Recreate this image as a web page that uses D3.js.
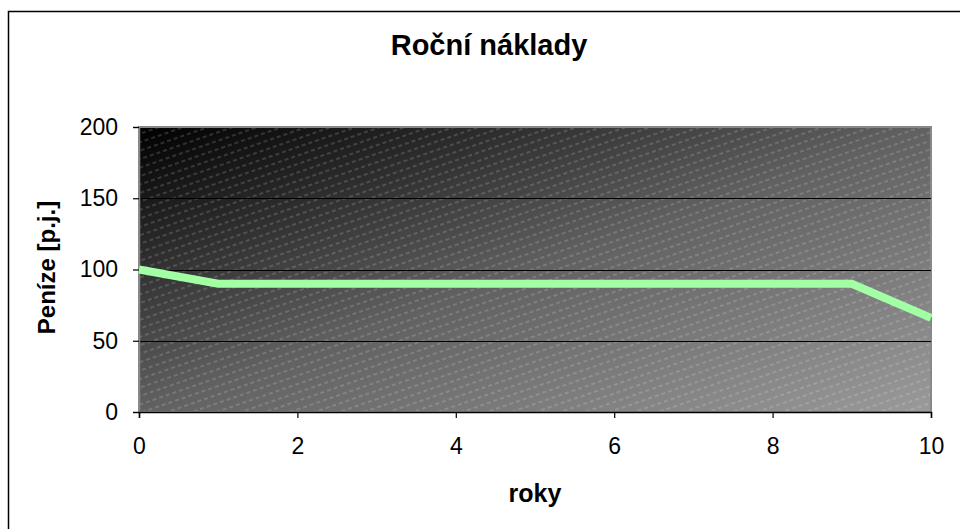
<!DOCTYPE html>
<html>
<head>
<meta charset="utf-8">
<script src="https://cdn.jsdelivr.net/npm/d3@7"></script>
<style>
  html, body { margin: 0; padding: 0; background: #fff; }
  svg { display: block; font-family: "Liberation Sans", Arial, sans-serif; }
</style>
</head>
<body>
<svg id="chart" width="960" height="529"></svg>
<script>
// Annual costs over the years
const years = [0, 1, 2, 3, 4, 5, 6, 7, 8, 9, 10];
const costs = [100, 90, 90, 90, 90, 90, 90, 90, 90, 90, 66];
const xTicks = [0, 2, 4, 6, 8, 10];
const yTicks = [0, 50, 100, 150, 200];

const title = "Roční náklady";
const xTitle = "roky";
const yTitle = "Peníze [p.j.]";

const svg = d3.select("#chart");
const plot = { left: 139, top: 127, right: 931, bottom: 412 };

const x = d3.scaleLinear().domain([0, 10]).range([plot.left, plot.right]);
const y = d3.scaleLinear().domain([0, 200]).range([plot.bottom, plot.top]);

const defs = svg.append("defs");

// plot area fill: diagonal grey gradient with a light hatch on top
const grad = defs.append("linearGradient")
  .attr("id", "bg").attr("x1", 0).attr("y1", 0).attr("x2", 1).attr("y2", 1);
grad.append("stop").attr("offset", 0).attr("stop-color", "#000");
grad.append("stop").attr("offset", 0.5).attr("stop-color", "#616161");
grad.append("stop").attr("offset", 1).attr("stop-color", "#9a9a9a");

const hatch = defs.append("pattern")
  .attr("id", "hatch").attr("patternUnits", "userSpaceOnUse")
  .attr("width", 7).attr("height", 8)
  .attr("patternTransform", "rotate(-19)");
hatch.append("line")
  .attr("x1", 0).attr("y1", 4).attr("x2", 7).attr("y2", 4)
  .attr("stroke", "#fff").attr("stroke-opacity", 0.3)
  .attr("stroke-width", 1).attr("stroke-dasharray", "4 3");

// outer chart border
svg.append("rect")
  .attr("x", 8.5).attr("y", 11.5).attr("width", 1000).attr("height", 1000)
  .attr("fill", "none").attr("stroke", "#000").attr("stroke-width", 1.5);

const pw = plot.right - plot.left, ph = plot.bottom - plot.top;
svg.append("rect")
  .attr("x", plot.left).attr("y", plot.top).attr("width", pw).attr("height", ph)
  .attr("fill", "url(#bg)");
svg.append("rect")
  .attr("x", plot.left).attr("y", plot.top).attr("width", pw).attr("height", ph)
  .attr("fill", "url(#hatch)");
svg.append("rect")
  .attr("x", plot.left).attr("y", plot.top).attr("width", pw).attr("height", ph)
  .attr("fill", "none").attr("stroke", "#888").attr("stroke-width", 2);

// horizontal gridlines
svg.append("g")
  .selectAll("line")
  .data(yTicks.filter(d => d > 0 && d < 200))
  .join("line")
  .attr("x1", plot.left).attr("x2", plot.right)
  .attr("y1", d => Math.round(y(d)) + 0.5).attr("y2", d => Math.round(y(d)) + 0.5)
  .attr("stroke", "#000").attr("stroke-width", 1);

// axes
const yAxis = svg.append("g")
  .attr("transform", `translate(${plot.left},0)`)
  .call(d3.axisLeft(y).tickValues(yTicks).tickSize(6).tickPadding(15));
const xAxis = svg.append("g")
  .attr("transform", `translate(0,${plot.bottom})`)
  .call(d3.axisBottom(x).tickValues(xTicks).tickSize(6).tickPadding(20));

[yAxis, xAxis].forEach(g => {
  g.select(".domain").attr("stroke", "#000").attr("stroke-width", 1.5);
  g.selectAll(".tick line").attr("stroke", "#000").attr("stroke-width", 1.2);
  g.selectAll(".tick text")
    .attr("fill", "#000")
    .style("font-family", "'Liberation Sans', Arial, sans-serif")
    .style("font-size", "23px");
});
yAxis.select(".domain").attr("stroke", "#888");

// cost line
const line = d3.line().x((d, i) => x(years[i])).y(d => y(d));
svg.append("path")
  .datum(costs)
  .attr("d", line)
  .attr("fill", "none")
  .attr("stroke", "#a3ffa3")
  .attr("stroke-width", 8)
  .attr("stroke-linejoin", "miter");

// titles
svg.append("text")
  .attr("x", 489).attr("y", 55)
  .attr("text-anchor", "middle")
  .style("font-weight", "bold").style("font-size", "29px")
  .text(title);

svg.append("text")
  .attr("x", (plot.left + plot.right) / 2).attr("y", 502)
  .attr("text-anchor", "middle")
  .style("font-weight", "bold").style("font-size", "25px")
  .text(xTitle);

svg.append("text")
  .attr("transform", `translate(55,${(plot.top + plot.bottom) / 2 - 2}) rotate(-90)`)
  .attr("text-anchor", "middle")
  .style("font-weight", "bold").style("font-size", "24px")
  .text(yTitle);
</script>
</body>
</html>
